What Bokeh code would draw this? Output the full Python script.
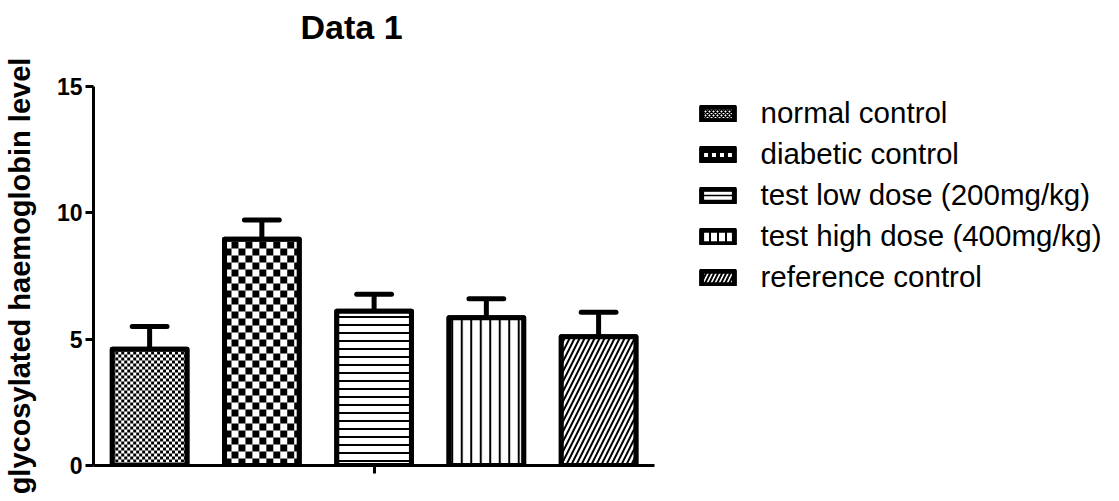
import numpy as np
from bokeh.plotting import figure
from bokeh.models import (FixedTicker, Legend, LegendItem, Range1d, Title)
from bokeh.embed import file_html
from bokeh.resources import INLINE

# ---- data ----
groups = ["normal control", "diabetic control", "test low dose (200mg/kg)",
          "test high dose (400mg/kg)", "reference control"]
means = [4.6, 8.95, 6.1, 5.85, 5.1]
sems = [0.9, 0.77, 0.68, 0.75, 0.97]
y_ticks = [0, 5, 10, 15]
title_text = "Data 1"
y_label = "glycosylated haemoglobin level"

# ---- styles / layout constants ----
FONT = "Liberation Sans"
W, H = 1103, 495
FRAME_L, FRAME_T, FRAME_B = 88, 86, 465   # frame edges (figure px)
PX_X = 112.8                              # px per category step
BAR_W = 0.665
fills = [("checker", 3), ("checker", 7), ("horizontal_line", 8), ("vertical_line", 9.5),
         ("right_diagonal_line", 10)]
legend_hatch = [("diagonal_cross", 4, 1.5), ("cross", 8, 4), ("horizontal_line", 5, 1.5),
                ("vertical_line", 8, 2), ("right_diagonal_line", 8, 2)]

n = len(groups)
xs = list(range(1, n + 1))
x_end = 0.5 + (W - FRAME_L) / PX_X
PX_Y = (FRAME_B - FRAME_T) / (y_ticks[-1] - y_ticks[0])

p = figure(width=W, height=H, output_backend="svg", toolbar_location=None, title=None,
           x_range=Range1d(0.5, x_end), y_range=Range1d(y_ticks[0], y_ticks[-1]),
           min_border_left=FRAME_L, min_border_right=0, min_border_top=FRAME_T,
           min_border_bottom=H - FRAME_B)
p.outline_line_color = None
p.grid.visible = False
p.background_fill_color = "white"

# legend proxies (same bars, carrying the legend swatch style; covered below)
proxies = []
for i in range(n):
    hp, hs, hw = legend_hatch[i]
    proxies.append(p.vbar(x=[xs[i]], top=[means[i]], bottom=0, width=BAR_W,
                          fill_color="white", line_color="black", line_width=5,
                          line_join="round", hatch_pattern=hp, hatch_scale=hs,
                          hatch_weight=hw, hatch_color="black"))

# bar fills
for i in range(n):
    kind = fills[i]
    kw = dict(hatch_pattern=kind[0], hatch_scale=kind[1], hatch_weight=2,
              hatch_color="black") if kind[0] != "checker" else {}
    p.vbar(x=[xs[i]], top=[means[i]], bottom=0, width=BAR_W,
           fill_color="white", line_color=None, **kw)

# checkerboard cells for checker-filled bars
L, R, B, T = [], [], [], []
for i in range(n):
    kind = fills[i]
    if kind[0] != "checker":
        continue
    cw = kind[1] / PX_X
    ch = kind[1] / PX_Y
    x0, x1 = xs[i] - BAR_W / 2, xs[i] + BAR_W / 2
    nx = int(np.ceil((x1 - x0) / cw))
    ny = int(np.ceil(means[i] / ch))
    for a in range(nx):
        for b in range(ny):
            if (a + b) % 2 == 0:
                L.append(x0 + a * cw)
                R.append(min(x0 + (a + 1) * cw, x1))
                B.append(b * ch)
                T.append(min((b + 1) * ch, means[i]))
p.quad(left=L, right=R, bottom=B, top=T, fill_color="black", line_color=None)

# bar outlines
p.vbar(x=xs, top=means, bottom=0, width=BAR_W, fill_color=None,
       line_color="black", line_width=5, line_join="round")

# error bars (upper)
tops = [m + s for m, s in zip(means, sems)]
cap = 0.155
p.segment(x0=xs, y0=means, x1=xs, y1=tops, line_color="black", line_width=5)
p.segment(x0=[x - cap for x in xs], y0=tops, x1=[x + cap for x in xs], y1=tops,
          line_color="black", line_width=5, line_cap="round")

# axes
ya = p.yaxis[0]
ya.ticker = FixedTicker(ticks=y_ticks)
ya.minor_tick_line_color = None
ya.major_tick_in = 0
ya.major_tick_out = 8
ya.major_tick_line_width = 3
ya.axis_line_width = 3
ya.major_label_text_font = FONT
ya.major_label_text_font_style = "bold"
ya.major_label_text_font_size = "23px"
ya.major_label_text_color = "black"
ya.major_label_standoff = 3
ya.axis_label = y_label
ya.axis_label_text_font = FONT
ya.axis_label_text_font_style = "bold"
ya.axis_label_text_font_size = "29px"
ya.axis_label_text_color = "black"
ya.axis_label_standoff = 18

xa = p.xaxis[0]
xa.bounds = (0.5, n + 0.5)
mid = (xs[0] + xs[-1]) / 2
xa.ticker = FixedTicker(ticks=[mid])
xa.major_label_overrides = {mid: ""}
xa.minor_tick_line_color = None
xa.major_tick_in = 0
xa.major_tick_out = 8
xa.major_tick_line_width = 3
xa.axis_line_width = 3

# title: spacer (closest to frame) then the title text
p.add_layout(Title(text=" ", text_font_size="1px", standoff=38), "above")
p.add_layout(Title(text=title_text, text_font=FONT, text_font_size="34px",
                   text_font_style="bold", text_color="black", align="left",
                   offset=207, standoff=0), "above")

legend = Legend(items=[LegendItem(label=g, renderers=[r]) for g, r in zip(groups, proxies)],
                location=(603.5, 171), glyph_width=41, glyph_height=17,
                label_standoff=23, spacing=7, padding=0, margin=0,
                border_line_color=None, background_fill_alpha=0,
                label_text_font=FONT, label_text_font_size="29.5px",
                label_text_color="black")
p.add_layout(legend)

open("out.html", "w").write(file_html(p, INLINE))
